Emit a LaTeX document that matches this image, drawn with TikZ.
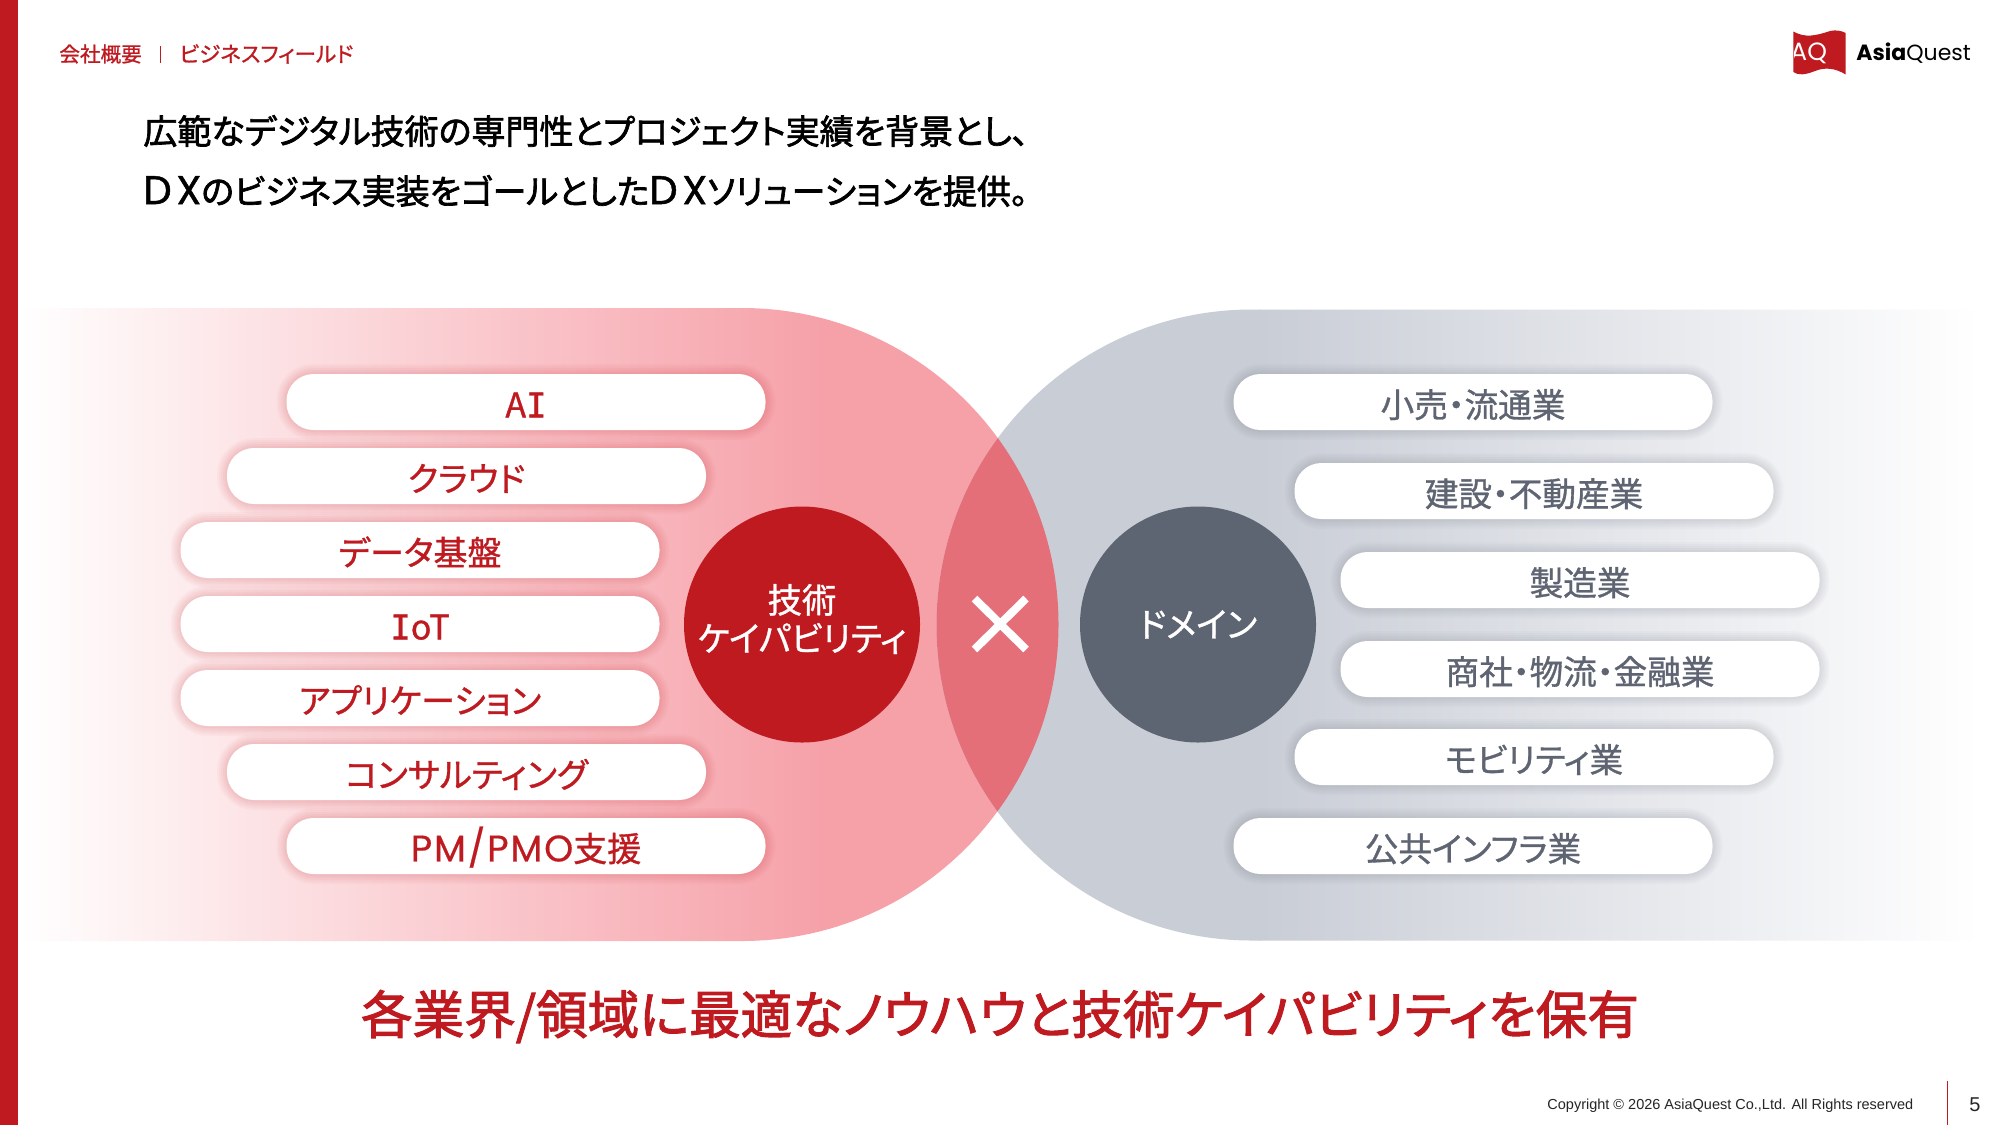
\documentclass[tikz,border=0pt]{standalone}
\usepackage{fontspec}
\setmainfont{Noto Sans CJK JP}[RawFeature=+palt]
\newfontfamily\jpm{Noto Sans CJK JP}[RawFeature=+palt,FakeBold=1.0]
\newfontfamily\jpb{Noto Sans CJK JP}[RawFeature=+palt,FakeBold=2.0]
\newfontfamily\monoI{DejaVu Sans Mono}[FakeBold=1.0]
\newfontfamily\arial{Liberation Sans}
\newfontfamily\logof{Poppins}
\newfontfamily\latm{Poppins}[FakeBold=0.5,LetterSpace=5]
\newfontfamily\latb{Poppins}[FakeBold=1.2,LetterSpace=12]
\definecolor{aqred}{HTML}{BE1A20}
\definecolor{aqpink}{HTML}{F6A0A8}
\definecolor{aqgrey}{HTML}{C9CDD6}
\definecolor{aqover}{HTML}{E56F79}
\definecolor{aqdark}{HTML}{5D6472}
\definecolor{aqtext}{HTML}{5F6472}
\tikzset{
  pillbase/.style={fill=white,rounded corners=13.5pt,minimum width=239.5pt,minimum height=28pt,inner sep=0pt,
    text height=17.4pt,text depth=2pt},
  techpill/.style={pillbase,text=aqred,font=\jpm\fontsize{17}{20}\selectfont,
    preaction={draw=aqred,line width=10pt,draw opacity=.03},
    preaction={draw=aqred,line width=8pt,draw opacity=.03},
    preaction={draw=aqred,line width=6pt,draw opacity=.035},
    preaction={draw=aqred,line width=4pt,draw opacity=.035},
    preaction={draw=aqred,line width=2pt,draw opacity=.04}},
  dompill/.style={pillbase,text=aqtext,font=\jpm\fontsize{16.8}{20}\selectfont,
    preaction={draw=aqdark,line width=10pt,draw opacity=.03},
    preaction={draw=aqdark,line width=8pt,draw opacity=.03},
    preaction={draw=aqdark,line width=6pt,draw opacity=.035},
    preaction={draw=aqdark,line width=4pt,draw opacity=.035},
    preaction={draw=aqdark,line width=2pt,draw opacity=.04}},
  bigcircle/.style={circle,minimum size=118pt,inner sep=0pt,text=white,align=center,
    font=\jpm\fontsize{17.2}{19.2}\selectfont},
}
\newcommand{\latbig}[1]{{\latm\fontsize{18.5}{20}\selectfont #1}}
\newcommand{\dxbig}{{\latb\fontsize{20}{20}\selectfont DX}}
\begin{document}
\begin{tikzpicture}[x=0.5pt,y=-0.5pt]
\useasboundingbox (0,0) rectangle (2000,1125);
\fill[white] (0,0) rectangle (2000,1125);
% big shapes
\begin{scope}
  \clip (18,308) -- (742,308) arc[start angle=-90,end angle=90,radius=316.5] -- (18,941) -- cycle;
  \shade[left color=white,right color=aqpink] (18,300) rectangle (830,950);
  \fill[aqpink] (829,300) rectangle (1070,950);
\end{scope}
\begin{scope}
  \clip (2000,309.5) -- (1252,309.5) arc[start angle=270,end angle=90,radius=315.5] -- (2000,940.5) -- cycle;
  \fill[aqgrey] (930,300) rectangle (1261,950);
  \shade[left color=aqgrey,right color=white] (1260,300) rectangle (1980,950);
  \fill[white] (1979,300) rectangle (2000,950);
\end{scope}
\begin{scope}
  \clip (742,624.5) circle[radius=316.5];
  \fill[aqover] (1252,625) circle[radius=315.5];
\end{scope}
% bar
\fill[aqred] (0,0) rectangle (18,1125);
% header
\node[anchor=west,inner sep=0pt,text=aqred,font=\jpm\fontsize{10.3}{12}\selectfont] (crumbA) at (59,54) {会社概要};
\node[anchor=west,inner sep=0pt,text=aqred,font=\jpm\fontsize{10.8}{12}\selectfont] (crumbB) at (179,54) {ビジネスフィールド};
\coordinate (sepT) at (160,46); \coordinate (sepB) at (160,63);
\draw[aqred,line width=.5pt] (sepT) -- (sepB);
\node[anchor=west,inner sep=0pt,font=\jpb\fontsize{17}{20}\selectfont] (titleA) at (143,131) {広範なデジタル技術の専門性とプロジェクト実績を背景とし、};
\node[anchor=west,inner sep=0pt,font=\jpb\fontsize{17}{20}\selectfont] (titleB) at (143,191) {\dxbig のビジネス実装をゴールとした\dxbig ソリューションを提供。};
% tech pills
\node[techpill] (t1) at (526,402) {A{\monoI I}};
\node[techpill] (t2) at (466.5,476) {クラウド};
\node[techpill] (t3) at (420,550) {データ基盤};
\node[techpill] (t4) at (420,624) {{\monoI I}oT};
\node[techpill] (t5) at (420,698) {アプリケーション};
\node[techpill] (t6) at (466.5,772) {コンサルティング};
\node[techpill] (t7) at (526,846) {\latbig{PM/PMO}支援};
% domain pills
\node[dompill] (d1) at (1473,402) {小売・流通業};
\node[dompill] (d2) at (1534,491) {建設・不動産業};
\node[dompill] (d3) at (1580,580) {製造業};
\node[dompill] (d4) at (1580,669) {商社・物流・金融業};
\node[dompill] (d5) at (1534,757) {モビリティ業};
\node[dompill] (d6) at (1473,846) {公共インフラ業};
% circles
\node[bigcircle,fill=aqred] (tech) at (802,624.5) {};
\node[text=white,align=center,inner sep=0pt,font=\jpm\fontsize{17.2}{19.2}\selectfont] (techt) at (802,619) {技術\\ケイパビリティ};
\node[bigcircle,fill=aqdark] (dom) at (1198,624.5) {ドメイン};
% cross
\coordinate (xa) at (974.5,598.5); \coordinate (xb) at (1026,649.5);
\coordinate (xc) at (1026,598.5); \coordinate (xd) at (974.5,649.5);
\draw[white,line width=4pt] (xa) -- (xb) (xc) -- (xd);
% bottom heading
\node[text=aqred,font=\jpb\fontsize{25.8}{30}\selectfont] (headline) at (1000,1016.5) {各業界/領域に最適なノウハウと技術ケイパビリティを保有};
% logo
\begin{scope}
  \path[clip] (1793.3,31.5) .. controls (1805,38) and (1815,36) .. (1830,31) .. controls (1836,29.5) and (1842,31) .. (1845.7,33) -- (1845.7,74.5) .. controls (1835,68) and (1825,67) .. (1815,71) .. controls (1805,75) and (1798,75.5) .. (1793.3,72) -- cycle;
  \fill[aqred] (1790,25) rectangle (1850,80);
  \node[anchor=west,inner sep=0pt,text=white,font=\logof\fontsize{12.5}{14}\selectfont] (logoAQ) at (1790,53.5) {AQ};
\end{scope}
\node[anchor=west,inner sep=0pt,font=\logof\fontsize{11}{14}\selectfont] (logoT) at (1856,53.5) {{\bfseries Asia}Quest};
% footer
\node[anchor=west,inner sep=0pt,text=black!85,font=\arial\fontsize{7.25}{9}\selectfont] (copy) at (1547,1105.5) {Copyright © 2026 AsiaQuest Co.,Ltd. All Rights reserved};
\coordinate (fsT) at (1947,1081); \coordinate (fsB) at (1947,1125);
\draw[aqred,line width=.5pt] (fsT) -- (fsB);
\node[inner sep=0pt,text=black!85,font=\arial\fontsize{10}{12}\selectfont] (page) at (1975,1105) {5};
\end{tikzpicture}
\end{document}
